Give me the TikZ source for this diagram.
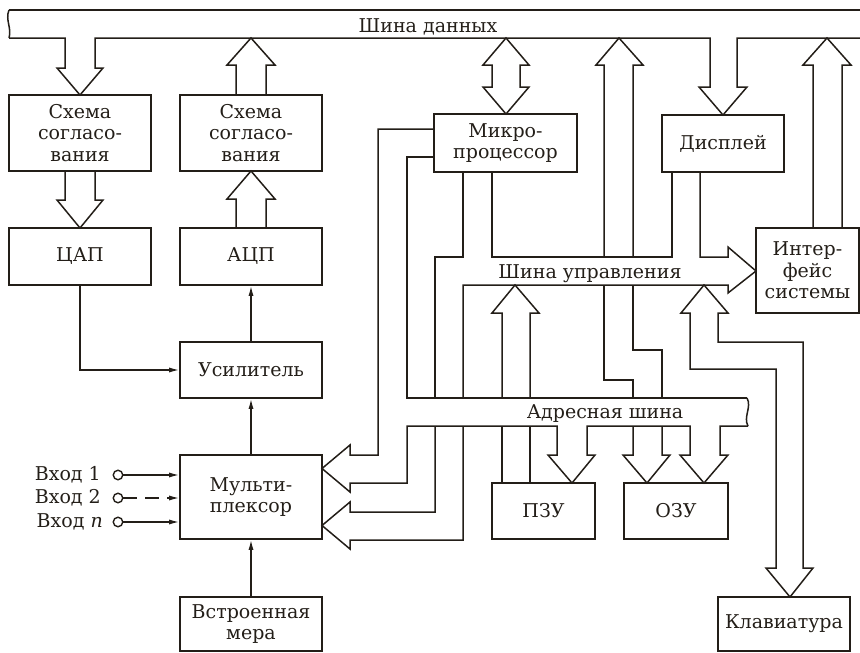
\documentclass[tikz,border=0pt]{standalone}
\usepackage{fontspec}
\setmainfont{DejaVu Serif}
\usetikzlibrary{arrows.meta}
\definecolor{ink}{RGB}{35,30,24}
\begin{document}
\begin{tikzpicture}[x=1pt,y=-1pt,line join=miter,color=ink,
  box/.style={draw,line width=1.6pt,align=center,inner sep=0pt,font=\fontsize{19}{21.5}\selectfont},
  lbl/.style={inner sep=0pt,font=\fontsize{19}{21.5}\selectfont},
  bus/.style={line width=1.5pt},
  sig/.style={line width=1.4pt,-{Latex[length=10pt,width=5pt]}}]
\useasboundingbox (0,0) rectangle (860,653);
% blocks
\node[box,minimum width=142pt,minimum height=76pt] (sch1) at (80,133) {Схема\\согласо-\\вания};
\node[box,minimum width=142pt,minimum height=76pt] (sch2) at (251,133) {Схема\\согласо-\\вания};
\node[box,minimum width=142pt,minimum height=57pt] (dac) at (80,256.5) {ЦАП};
\node[box,minimum width=142pt,minimum height=57pt] (adc) at (251,256.5) {АЦП};
\node[box,minimum width=142pt,minimum height=56pt] (amp) at (251,370) {Усилитель};
\node[box,minimum width=142pt,minimum height=84pt] (mux) at (251,497) {Мульти-\\плексор};
\node[box,minimum width=142pt,minimum height=54pt] (mera) at (251,624) {Встроенная\\мера};
\node[box,minimum width=143pt,minimum height=58pt] (cpu) at (505.5,143) {Микро-\\процессор};
\node[box,minimum width=122pt,minimum height=57pt] (disp) at (723,143.5) {Дисплей};
\node[box,minimum width=103pt,minimum height=85pt] (intf) at (807.5,270.5) {Интер-\\фейс\\системы};
\node[box,minimum width=103pt,minimum height=56pt] (rom) at (543.5,511) {ПЗУ};
\node[box,minimum width=104pt,minimum height=56pt] (ram) at (676,511) {ОЗУ};
\node[box,minimum width=132pt,minimum height=54pt] (kbd) at (784,624) {Клавиатура};
% bus labels
\node[lbl,anchor=base] (dbl) at (428,32) {Шина данных};
\node[lbl,anchor=base] (cbl) at (590,278) {Шина управления};
\node[lbl,anchor=base] (abl) at (605,418) {Адресная шина};
% inputs
\node[lbl,anchor=east] (l1) at (101,475) {Вход 1};
\node[lbl,anchor=east] (l2) at (101,498) {Вход 2};
\node[lbl,anchor=east] (l3) at (103,522) {Вход \textit{n}};
\node[circle,draw,line width=1.4pt,inner sep=0pt,minimum size=9.5pt] (c1) at (118,475) {};
\node[circle,draw,line width=1.4pt,inner sep=0pt,minimum size=9.5pt] (c2) at (118,498) {};
\node[circle,draw,line width=1.4pt,inner sep=0pt,minimum size=9.5pt] (c3) at (118,522) {};
\draw[sig] (c1) -- (c1 -| mux.west);
\draw[sig,dash pattern=on 14pt off 8pt] (c2) -- (c2 -| mux.west);
\draw[sig] (c3) -- (c3 -| mux.west);
% thin signal lines
\draw[sig] (dac.south) |- (amp.west);
\draw[sig] (amp.north) -- (adc.south);
\draw[sig] (mux.north) -- (amp.south);
\draw[sig] (mera.north) -- (mux.south);
% data bus
\draw[bus] (9,10) .. controls (5,20) and (12,28) .. (9,38);
\draw[bus] (9,10) -- (860,10);
\draw[bus] (9,38) -- (65,38) -- (65,68) -- (57,68) -- (80,95) -- (103,68) -- (95,68) -- (95,38)
  -- (710,38) -- (710,87) -- (699,87) -- (723,115) -- (747,87) -- (737,87) -- (737,38) -- (860,38);
\draw[bus] (65,171) -- (65,200) -- (57,200) -- (80,228) -- (103,200) -- (95,200) -- (95,171);
\draw[bus] (236,228) -- (236,199) -- (227,199) -- (251,171) -- (275,199) -- (266,199) -- (266,228);
\draw[bus] (236,95) -- (236,65) -- (227,65) -- (251,38) -- (275,65) -- (266,65) -- (266,95);
\draw[bus] (492,87) -- (492,65) -- (483,65) -- (506,38) -- (529,65) -- (520,65) -- (520,87)
  -- (529,87) -- (506,114) -- (483,87) -- cycle;
\draw[bus] (604,257) -- (604,65) -- (596,65) -- (619,38) -- (643,65) -- (633,65) -- (633,257);
\draw[bus] (604,285) -- (604,380) -- (633,380) -- (633,398);
\draw[bus] (633,285) -- (633,350) -- (662,350) -- (662,398);
\draw[bus] (813,228) -- (813,65) -- (803,65) -- (827,38) -- (851,65) -- (842,65) -- (842,228);
% control bus
\draw[bus] (492,172) -- (492,257) -- (672,257) -- (672,172);
\draw[bus] (435,398) -- (435,257) -- (463,257) -- (463,172);
\draw[bus] (463,398) -- (463,285) -- (728,285) -- (728,293) -- (756,271) -- (728,247) -- (728,257) -- (700,257) -- (700,172);
\draw[bus] (502,483) -- (502,426);
\draw[bus] (502,398) -- (502,313) -- (492,313) -- (515,285) -- (539,313) -- (530,313) -- (530,398);
\draw[bus] (530,426) -- (530,483);
\draw[bus] (690,313) -- (681,313) -- (704,285) -- (728,313) -- (718,313) -- (718,342) -- (803,342)
  -- (803,568) -- (813,568) -- (790,597) -- (766,568) -- (776,568) -- (776,369) -- (690,369) -- cycle;
% address bus
\draw[bus] (434,157) -- (407,157) -- (407,398) -- (747,398);
\draw[bus] (747,398) .. controls (752,407) and (743,417) .. (748,426);
\draw[bus] (434,129) -- (378,129) -- (378,455) -- (350,455) -- (350,445) -- (322,468.5) -- (350,492) -- (350,483)
  -- (407,483) -- (407,426) -- (557,426) -- (557,455) -- (548,455) -- (572,483) -- (595,455) -- (587,455) -- (587,426)
  -- (690,426) -- (690,455) -- (680,455) -- (704,483) -- (728,455) -- (720,455) -- (720,426) -- (748,426);
\draw[bus] (633,426) -- (633,455) -- (623,455) -- (647,483) -- (670,455) -- (662,455) -- (662,426);
\draw[bus] (435,426) -- (435,512) -- (350,512) -- (350,502) -- (322,525.5) -- (350,549) -- (350,540) -- (463,540) -- (463,426);
\end{tikzpicture}
\end{document}
